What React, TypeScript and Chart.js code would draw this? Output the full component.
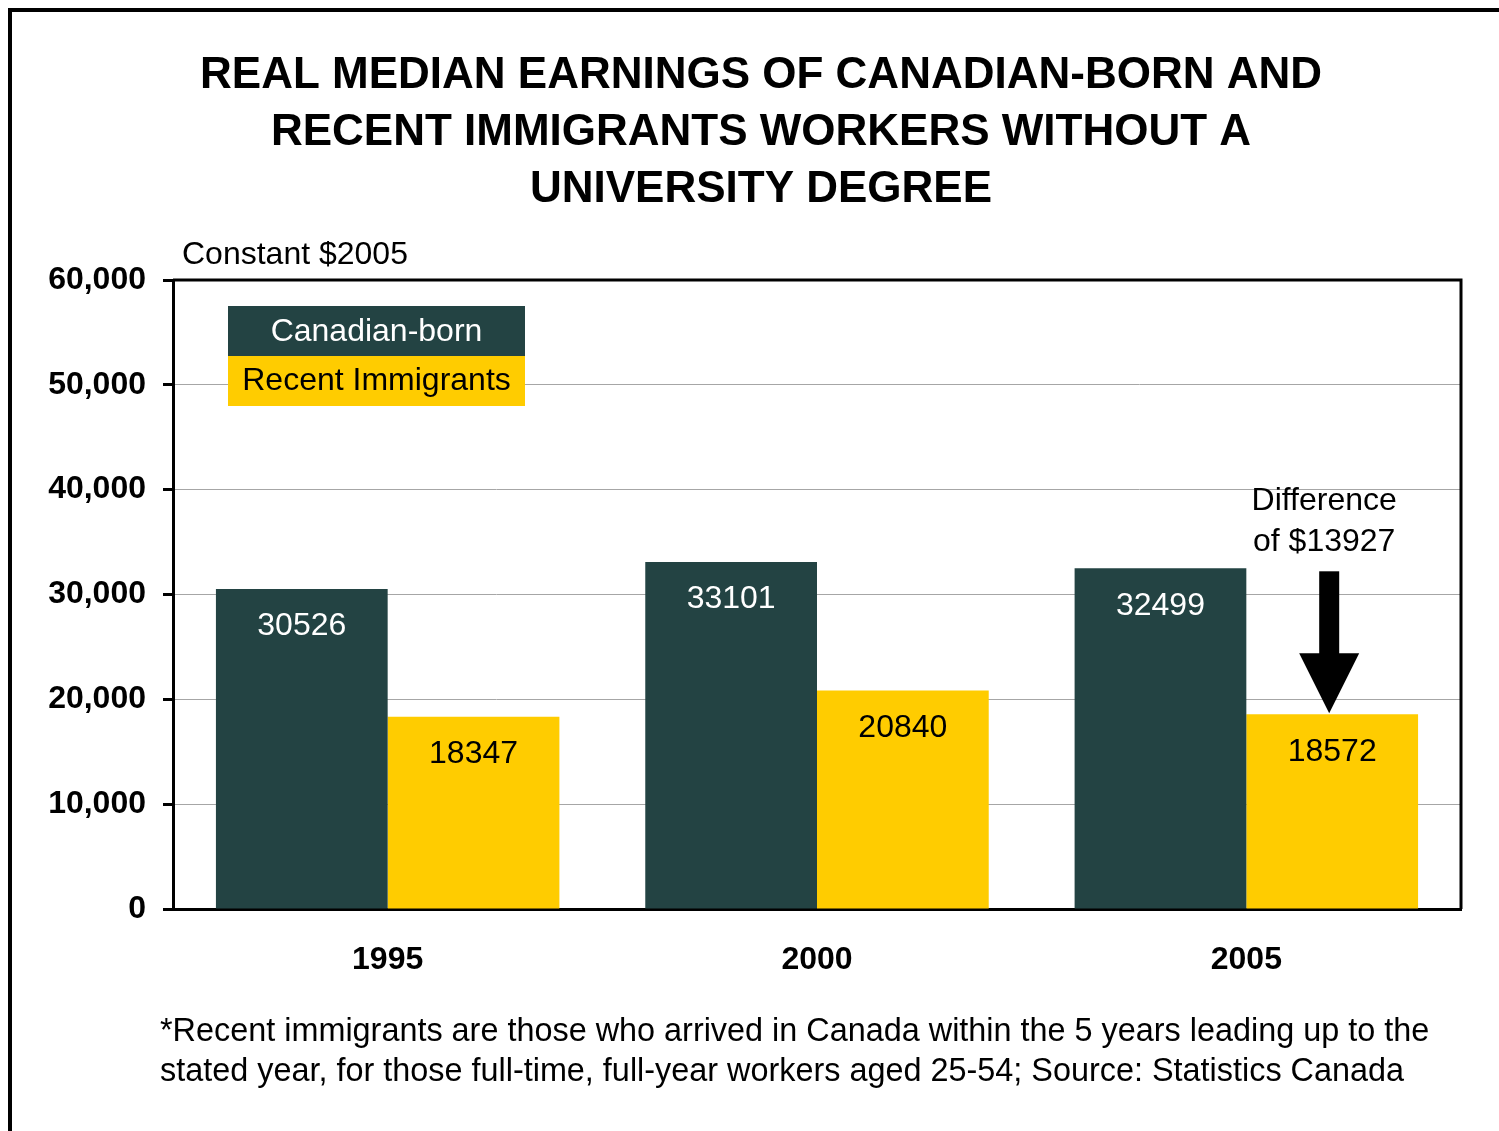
import React, { useEffect, useRef } from "react";
import { Chart, registerables } from "chart.js";

Chart.register(...registerables);

const years = ["1995", "2000", "2005"];
const canadianBorn = [30526, 33101, 32499];
const recentImmigrants = [18347, 20840, 18572];
const yTicks = [0, 10000, 20000, 30000, 40000, 50000, 60000];
const seriesNames = ["Canadian-born", "Recent Immigrants"];
const titleLines = [
  "REAL MEDIAN EARNINGS OF CANADIAN-BORN AND",
  "RECENT IMMIGRANTS WORKERS WITHOUT A",
  "UNIVERSITY DEGREE",
];
const unitLabel = "Constant $2005";
const footnoteLines = [
  "*Recent immigrants are those who arrived in Canada within the 5 years leading up to the",
  "stated year, for those full-time, full-year workers aged 25-54; Source: Statistics Canada",
];

const DARK = "#234343";
const YELLOW = "#FFCC00";
const FONT = "'Liberation Sans', Arial, Helvetica, sans-serif";

const W = 1499;
const H = 1131;

const overlayPlugin = {
  id: "overlay",
  afterDatasetsDraw(chart: any) {
    const ctx = chart.ctx;
    ctx.save();
    chart.data.datasets.forEach((ds: any, di: number) => {
      const meta = chart.getDatasetMeta(di);
      meta.data.forEach((bar: any, i: number) => {
        ctx.font = `32px ${FONT}`;
        ctx.textAlign = "center";
        ctx.textBaseline = "middle";
        ctx.fillStyle = di === 0 ? "#ffffff" : "#000000";
        ctx.fillText(String(ds.data[i]), bar.x, bar.y + 37.5);
      });
    });
    ctx.restore();
  },
  afterDraw(chart: any) {
    const ctx = chart.ctx;
    const area = chart.chartArea;
    const yScale = chart.scales.y;
    ctx.save();

    // outer frame (top and left edges visible)
    ctx.strokeStyle = "#000";
    ctx.lineWidth = 4;
    ctx.beginPath();
    ctx.moveTo(10, H + 5);
    ctx.lineTo(10, 10);
    ctx.lineTo(W + 5, 10);
    ctx.stroke();

    // plot box
    ctx.lineWidth = 3;
    ctx.beginPath();
    ctx.moveTo(area.left, area.top);
    ctx.lineTo(area.right, area.top);
    ctx.lineTo(area.right, area.bottom);
    ctx.stroke();

    // title
    ctx.fillStyle = "#000";
    ctx.textAlign = "center";
    ctx.textBaseline = "alphabetic";
    ctx.font = `bold 44px ${FONT}`;
    const titleBase = [88, 145, 202];
    titleLines.forEach((t, i) => ctx.fillText(t, 761, titleBase[i]));

    // unit label
    ctx.textAlign = "left";
    ctx.font = `32px ${FONT}`;
    ctx.fillText(unitLabel, 182, 264);

    // legend
    const lx = 228, ly = 306, lw = 297, lh = 50;
    ctx.fillStyle = DARK;
    ctx.fillRect(lx, ly, lw, lh);
    ctx.fillStyle = YELLOW;
    ctx.fillRect(lx, ly + lh, lw, lh);
    ctx.textAlign = "center";
    ctx.textBaseline = "middle";
    ctx.font = `32px ${FONT}`;
    ctx.fillStyle = "#fff";
    ctx.fillText(seriesNames[0], lx + lw / 2, ly + lh / 2 + 1);
    ctx.fillStyle = "#000";
    ctx.fillText(seriesNames[1], lx + lw / 2, ly + lh + lh / 2);

    // annotation + arrow on last category
    const last = years.length - 1;
    const barR = chart.getDatasetMeta(1).data[last];
    const diff = canadianBorn[last] - recentImmigrants[last];
    const cx = barR.x - 3;
    const tipY = yScale.getPixelForValue(recentImmigrants[last]) - 1;
    const shaftTop = yScale.getPixelForValue(canadianBorn[last]) + 3;
    const headBase = tipY - 60;
    ctx.fillStyle = "#000";
    ctx.fillRect(cx - 10, shaftTop, 20, headBase - shaftTop + 1);
    ctx.beginPath();
    ctx.moveTo(cx - 30, headBase);
    ctx.lineTo(cx + 30, headBase);
    ctx.lineTo(cx, tipY);
    ctx.closePath();
    ctx.fill();
    ctx.textAlign = "center";
    ctx.textBaseline = "alphabetic";
    ctx.font = `32px ${FONT}`;
    ctx.fillText("Difference", cx - 5, 510);
    ctx.fillText(`of $${diff}`, cx - 5, 551);

    // footnote
    ctx.textAlign = "left";
    ctx.font = `32.4px ${FONT}`;
    ctx.fillText(footnoteLines[0], 160, 1041);
    ctx.fillText(footnoteLines[1], 160, 1081);

    ctx.restore();
  },
};

export default function App() {
  const ref = useRef<HTMLCanvasElement | null>(null);
  useEffect(() => {
    if (!ref.current) return;
    const chart = new Chart(ref.current, {
      type: "bar",
      data: {
        labels: years,
        datasets: [
          {
            label: seriesNames[0],
            data: canadianBorn,
            backgroundColor: DARK,
            borderWidth: 0,
            categoryPercentage: 0.8,
            barPercentage: 1.0,
          },
          {
            label: seriesNames[1],
            data: recentImmigrants,
            backgroundColor: YELLOW,
            borderWidth: 0,
            categoryPercentage: 0.8,
            barPercentage: 1.0,
          },
        ],
      },
      options: {
        responsive: false,
        animation: false,
        devicePixelRatio: 1,
        layout: { padding: { top: 280, left: 0, right: 38, bottom: 122 } },
        plugins: {
          legend: { display: false },
          title: { display: false },
          tooltip: { enabled: false },
        },
        scales: {
          x: {
            grid: { display: false, drawTicks: false },
            border: { color: "#000", width: 3 },
            ticks: {
              color: "#000",
              padding: 32,
              font: { family: FONT, size: 32, weight: "bold" },
            },
            afterFit(scale: any) {
              scale.height = 100;
            },
          },
          y: {
            min: 0,
            max: 60000,
            afterBuildTicks(scale: any) {
              scale.ticks = yTicks.map((v) => ({ value: v }));
            },
            grid: {
              color: "#a6a6a6",
              lineWidth: 1,
              tickColor: "#000",
              tickWidth: 3,
              tickLength: 10,
            },
            border: { color: "#000", width: 3 },
            ticks: {
              color: "#000",
              padding: 17,
              font: { family: FONT, size: 32, weight: "bold" },
              callback: (v: any) => Number(v).toLocaleString("en-US"),
            },
            afterFit(scale: any) {
              scale.width = 173;
            },
          },
        },
      },
      plugins: [overlayPlugin],
    });
    return () => chart.destroy();
  }, []);
  return (
    <div style={{ position: "absolute", left: 0, top: 0, width: W, height: H, background: "#fff" }}>
      <canvas ref={ref} width={W} height={H} style={{ display: "block" }} />
    </div>
  );
}
